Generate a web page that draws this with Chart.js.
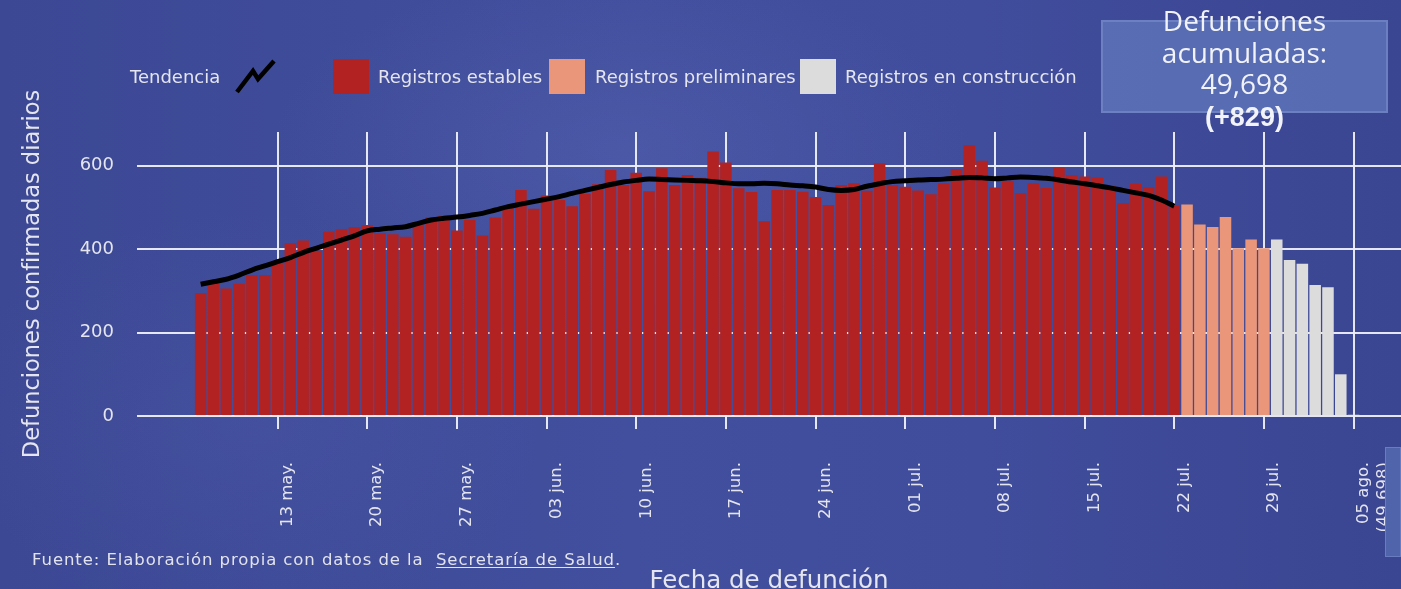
<!DOCTYPE html>
<html lang="es">
<head>
<meta charset="utf-8">
<title>Defunciones confirmadas diarias</title>
<script src="https://cdn.jsdelivr.net/npm/chart.js@4.4.1/dist/chart.umd.min.js"></script>
<style>
  html, body { margin: 0; padding: 0; }
  body {
    width: 1401px; height: 589px; overflow: hidden; position: relative;
    font-family: "DejaVu Sans", sans-serif;
    color: #e6e7f0;
    background:
      radial-gradient(ellipse 500px 260px at 620px 150px, rgba(120,130,205,0.18), rgba(120,130,205,0) 70%),
      radial-gradient(ellipse 420px 300px at 250px 420px, rgba(110,120,200,0.12), rgba(110,120,200,0) 70%),
      linear-gradient(90deg, #3c4894 0%, #414f9e 45%, #404d9c 70%, #3b4692 100%);
  }
  #wrap { position: absolute; left: 0; top: 0; width: 1401px; height: 589px; }
  .lg-text { position: absolute; top: 64px; font-size: 18px; line-height: 26px; white-space: nowrap; color: #e4e5ee; }
  .lg-box { position: absolute; top: 59px; width: 36px; height: 35px; }
  #tend-icon { position: absolute; left: 230px; top: 56px; }
  #total {
    position: absolute; left: 1101px; top: 20px; width: 287px; height: 93px;
    background: rgba(98,122,190,0.72); box-sizing: border-box;
    border: 2px solid rgba(125,145,205,0.55);
  }
  #total-text {
    position: absolute; left: 1101px; top: 5px; width: 287px; text-align: center;
    font-family: "Open Sans", Lato, sans-serif; font-size: 28px; line-height: 31.5px; color: #f2f3f8;
  }
  #total-text b { font-family: "Liberation Sans", Arial, sans-serif; font-size: 27px; }
  #fuente { position: absolute; left: 32px; top: 550px; font-size: 16.5px; letter-spacing: 0.92px; color: #e2e3ec; white-space: nowrap; }
  #fuente u { text-underline-offset: 2px; }
  #side-tab {
    position: absolute; left: 1385px; top: 447px; width: 16px; height: 110px;
    background: #5064ac; border: 1px solid #6a7cc0; box-sizing: border-box;
  }
</style>
</head>
<body>
<div id="wrap"><canvas id="myChart" width="1401" height="589"></canvas></div>

<div class="lg-text" style="left:130px">Tendencia</div>
<svg id="tend-icon" width="50" height="42" viewBox="0 0 50 42">
  <polyline points="7,36 23,15 28,23 44,5" fill="none" stroke="#000" stroke-width="4.5" stroke-linejoin="miter"/>
</svg>
<div class="lg-box" style="left:333px;background:#b22222"></div>
<div class="lg-text" style="left:378px">Registros estables</div>
<div class="lg-box" style="left:549px;background:#e9967a"></div>
<div class="lg-text" style="left:595px">Registros preliminares</div>
<div class="lg-box" style="left:800px;background:#dcdcdc"></div>
<div class="lg-text" style="left:845px">Registros en construcción</div>

<div id="total"></div>
<div id="total-text">Defunciones<br>acumuladas:<br>49,698<br><b>(+829)</b></div>

<div id="fuente">Fuente: Elaboración propia con datos de la&nbsp; <u>Secretaría de Salud</u>.</div>
<div id="side-tab"></div>

<script>
// dias desde el 7 de mayo (indice 0)
const stableValues = [
  295, 318, 306, 317, 338, 338, 366, 414, 421, 396, 442, 448, 453, 458, 438, 436, 430, 465, 477, 480, 445, 470, 433, 476, 502,
  542, 497, 529, 518, 503, 533, 556, 590, 554, 583, 539, 594, 554, 578, 571, 634, 608, 546, 537, 467, 542, 542, 538, 525, 506, 554, 558, 540, 606, 554,
  550, 541, 532, 558, 592, 649, 612, 548, 564, 534, 558, 547, 596, 578, 574, 572, 553, 510, 557, 549, 574, 505
];
const preliminaryValues = [507, 459, 453, 477, 402, 423, 402];
const constructionValues = [423, 374, 365, 314, 309, 100, 3];
const trendValues = [
  316, 322, 328, 338, 350, 360, 370, 380, 392, 402, 412, 422, 432, 444, 448, 451, 454, 462, 470, 474, 477, 481, 486, 494, 502,
  508, 514, 520, 526, 534, 541, 548, 555, 561, 565, 568, 567, 566, 565, 564, 562, 559, 557, 557, 558, 557, 554, 552, 549, 543, 541, 543, 551, 557, 562,
  564, 566, 567, 568, 570, 572, 571, 569, 571, 573, 572, 570, 566, 561, 557, 552, 547, 541, 535, 529, 518, 503
];
const tickDays = [6, 13, 20, 27, 34, 41, 48, 55, 62, 69, 76, 83, 90];
const tickLabels = ["13 may.", "20 may.", "27 may.", "03 jun.", "10 jun.", "17 jun.", "24 jun.",
  "01 jul.", "08 jul.", "15 jul.", "22 jul.", "29 jul.", ["05 ago.", "(49,698)"]];
const yTicks = [0, 200, 400, 600];

// x = numero de dia
const toPoints = (values, start) => values.map((v, i) => ({ x: start + i, y: v }));
const prelimStart = stableValues.length;
const constrStart = prelimStart + preliminaryValues.length;

const gridColor = "rgba(238,239,246,0.95)";
const textColor = "#e4e5ee";
const axisFont = "DejaVu Sans";

const ctx = document.getElementById("myChart");

new Chart(ctx, {
  type: "bar",
  data: {
    datasets: [
      {
        type: "line",
        label: "Tendencia",
        data: toPoints(trendValues, 0),
        borderColor: "#000",
        borderWidth: 5,
        pointRadius: 0,
        cubicInterpolationMode: "monotone",
        order: 0,
      },
      {
        label: "Registros estables",
        data: toPoints(stableValues, 0),
        backgroundColor: "#b22222",
        grouped: false,
        categoryPercentage: 1,
        barPercentage: 0.9,
        order: 1,
      },
      {
        label: "Registros preliminares",
        data: toPoints(preliminaryValues, prelimStart),
        backgroundColor: "#e9967a",
        grouped: false,
        categoryPercentage: 1,
        barPercentage: 0.9,
        order: 1,
      },
      {
        label: "Registros en construcción",
        data: toPoints(constructionValues, constrStart),
        backgroundColor: "#dcdcdc",
        grouped: false,
        categoryPercentage: 1,
        barPercentage: 0.9,
        order: 1,
      },
    ],
  },
  options: {
    responsive: false,
    animation: false,
    layout: { padding: { top: 132, left: 0, right: 0, bottom: 0 }, autoPadding: false },
    plugins: { legend: { display: false }, tooltip: { enabled: false } },
    scales: {
      x: {
        type: "linear",
        offset: false,
        min: -4.97,
        max: 93.7,
        afterBuildTicks: (scale) => { scale.ticks = tickDays.map((v) => ({ value: v })); },
        afterFit: (scale) => {
          scale.height = 173;
          // sin relleno extra por la ultima etiqueta
          scale.paddingLeft = 0;
          scale.paddingRight = 0;
        },
        grid: { color: gridColor, lineWidth: 2, tickLength: 13, offset: false },
        border: { display: false },
        ticks: {
          autoSkip: false,
          minRotation: 90,
          maxRotation: 90,
          padding: 33,
          labelOffset: 10,
          color: textColor,
          font: { family: axisFont, size: 16.5 },
          callback: (value) => tickLabels[tickDays.indexOf(value)],
        },
        title: {
          display: true,
          text: "Fecha de defunción",
          color: textColor,
          font: { family: axisFont, size: 24.5 },
          padding: { top: 0, bottom: -7 },
        },
      },
      y: {
        min: 0,
        max: 681,
        afterBuildTicks: (scale) => { scale.ticks = yTicks.map((v) => ({ value: v })); },
        afterFit: (scale) => { scale.width = 137; },
        grid: { color: gridColor, lineWidth: 2, drawTicks: false },
        border: { display: false },
        ticks: {
          padding: 23,
          color: textColor,
          font: { family: axisFont, size: 18 },
        },
        title: {
          display: true,
          text: "Defunciones confirmadas diarios",
          color: textColor,
          font: { family: axisFont, size: 22.5 },
          padding: { top: 20, bottom: 0 },
        },
      },
    },
  },
});
</script>
</body>
</html>
